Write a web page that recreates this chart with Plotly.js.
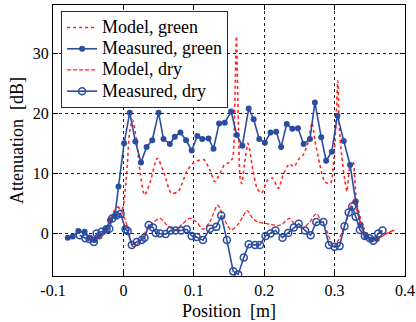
<!DOCTYPE html>
<html>
<head>
<meta charset="utf-8">
<script src="https://cdn.plot.ly/plotly-3.0.1.min.js"></script>
<style>html,body{margin:0;padding:0;background:#fff;}#chart{width:416px;height:322px;}</style>
</head>
<body>
<div id="chart"></div>
<script>
// ---- data ----
var modelGreenX = [-0.050, -0.042, -0.034, -0.024, -0.015, -0.008, -0.002, 0.004, 0.009, 0.013, 0.018, 0.024, 0.030, 0.038, 0.048, 0.058, 0.068, 0.078, 0.090, 0.100, 0.114, 0.123, 0.130, 0.137, 0.144, 0.150, 0.155, 0.158, 0.1605, 0.163, 0.166, 0.168, 0.172, 0.177, 0.184, 0.190, 0.196, 0.205, 0.212, 0.220, 0.227, 0.236, 0.242, 0.250, 0.255, 0.262, 0.268, 0.272, 0.279, 0.286, 0.294, 0.299, 0.3025, 0.3045, 0.3065, 0.310, 0.3143, 0.3175, 0.3215, 0.326, 0.331, 0.3405, 0.350, 0.354, 0.364, 0.374, 0.385];
var modelGreenY = [-0.5, -1.0, -0.8, 0.6, 3.3, 4.4, 4.0, 9.0, 17.0, 18.9, 16.0, 10.0, 6.4, 8.5, 12.5, 10.0, 6.7, 7.0, 10.3, 11.8, 12.3, 10.5, 8.6, 10.0, 11.5, 11.8, 12.5, 20.0, 32.8, 20.0, 9.0, 8.3, 11.5, 15.0, 10.5, 7.5, 6.7, 8.9, 9.2, 7.5, 9.8, 11.6, 11.1, 12.5, 13.0, 15.0, 18.4, 15.5, 11.5, 8.6, 8.3, 12.5, 20.0, 25.4, 18.0, 13.0, 9.0, 7.0, 11.0, 12.0, 5.5, 1.1, -0.6, -1.1, -0.7, 0.0, 0.6];

var measGreenX = [-0.079, -0.072, -0.064, -0.055, -0.048, -0.041, -0.034, -0.025, -0.019, -0.012, -0.007, 0.001, 0.009, 0.017, 0.025, 0.033, 0.041, 0.050, 0.057, 0.066, 0.073, 0.081, 0.089, 0.097, 0.105, 0.112, 0.121, 0.128, 0.136, 0.144, 0.153, 0.161, 0.169, 0.178, 0.185, 0.193, 0.201, 0.209, 0.217, 0.224, 0.232, 0.240, 0.248, 0.256, 0.265, 0.272, 0.281, 0.288, 0.296, 0.304, 0.313, 0.322, 0.330, 0.337, 0.345, 0.352, 0.360];
var measGreenY = [-0.7, -0.5, 0.4, 0.3, -0.7, -1.1, -0.5, 0.7, 2.2, 2.9, 7.8, 15.0, 20.1, 15.3, 11.8, 14.4, 15.5, 20.1, 15.7, 14.9, 16.1, 16.8, 15.5, 13.8, 16.2, 15.7, 15.8, 14.1, 18.3, 18.4, 20.3, 16.4, 14.6, 20.8, 19.0, 15.7, 15.1, 16.8, 16.9, 14.4, 18.2, 17.4, 17.5, 14.9, 15.7, 21.8, 16.0, 12.1, 13.6, 19.6, 15.4, 11.4, 5.3, 1.4, -0.5, -1.0, -0.9];

var modelDryX = [-0.050, -0.042, -0.034, -0.024, -0.015, -0.008, 0.000, 0.007, 0.014, 0.023, 0.033, 0.042, 0.052, 0.062, 0.073, 0.083, 0.094, 0.104, 0.113, 0.123, 0.134, 0.144, 0.153, 0.164, 0.176, 0.183, 0.191, 0.200, 0.210, 0.220, 0.228, 0.236, 0.244, 0.254, 0.264, 0.274, 0.282, 0.290, 0.298, 0.306, 0.317, 0.327, 0.334, 0.342, 0.354, 0.364, 0.374, 0.385];
var modelDryY = [-0.5, -1.0, -0.8, 0.6, 3.3, 4.4, 3.0, 0.6, -2.2, -1.4, 0.6, 1.8, 2.5, 1.4, 0.6, 1.5, 2.5, 1.9, 0.7, 2.0, 4.7, 2.2, 0.6, 1.7, 3.8, 2.6, 1.9, 1.7, 1.5, 1.3, 1.8, 2.5, 1.4, 0.8, 1.8, 3.3, 1.8, 0.2, -2.2, -1.0, 2.2, 5.5, 2.8, 0.0, -1.1, -0.7, 0.0, 0.6];

var measDryX = [-0.062, -0.054, -0.048, -0.042, -0.038, -0.031, -0.024, -0.020, -0.016, -0.010, -0.004, 0.003, 0.006, 0.012, 0.019, 0.026, 0.030, 0.036, 0.042, 0.046, 0.052, 0.060, 0.067, 0.074, 0.082, 0.090, 0.097, 0.104, 0.113, 0.123, 0.132, 0.139, 0.147, 0.156, 0.163, 0.171, 0.178, 0.187, 0.194, 0.202, 0.209, 0.216, 0.226, 0.234, 0.242, 0.249, 0.258, 0.266, 0.274, 0.284, 0.292, 0.300, 0.307, 0.314, 0.320, 0.325, 0.330, 0.336, 0.343, 0.350, 0.355, 0.362, 0.368];
var measDryY = [-0.3, -0.8, -0.9, -1.4, 0.0, 0.3, 0.7, 0.8, 2.5, 3.0, 3.3, 0.7, 0.4, -1.9, -1.4, -1.1, -0.7, 1.4, 1.0, 0.1, 0.0, -0.1, 0.5, 0.5, 0.5, 0.7, -0.4, -0.6, -1.1, 0.8, 1.1, 3.0, -1.1, -6.3, -6.8, -4.0, -1.8, -1.9, -1.9, -0.4, 0.0, 0.5, -0.7, 0.1, 1.0, 1.6, 0.5, -0.3, 1.9, 1.9, -1.9, -2.2, -2.1, 1.2, 3.5, 4.5, 2.8, 0.6, -0.4, -0.8, -1.2, 0.0, 0.5];

var seriesNames = ["Model, green", "Measured, green", "Model, dry", "Measured, dry"];
var xTickVals = [-0.1, 0, 0.1, 0.2, 0.3, 0.4];
var xTickText = ["-0.1", "0", "0.1", "0.2", "0.3", "0.4"];
var yTickVals = [0, 10, 20, 30];
var yTickText = ["0", "10", "20", "30"];

// ---- styles ----
var RED = "rgb(255,35,35)";
var BLUE = "rgb(44,76,160)";
var FONT = "'Liberation Serif', 'Times New Roman', serif";
function legendLabel(s) { return '<span style="font-size:18px">' + s + '</span>'; }

var traces = [
  {x: modelGreenX, y: modelGreenY, name: legendLabel(seriesNames[0]), mode: "lines",
   line: {color: RED, dash: "dot", width: 1.6, shape: "spline", smoothing: 0.7}},
  {x: measGreenX, y: measGreenY, name: legendLabel(seriesNames[1]), mode: "lines+markers",
   line: {color: BLUE, width: 1.6}, marker: {color: BLUE, size: 6, symbol: "circle"}},
  {x: modelDryX, y: modelDryY, name: legendLabel(seriesNames[2]), mode: "lines",
   line: {color: RED, dash: "4px,2px", width: 1.3, shape: "spline", smoothing: 0.8}},
  {x: measDryX, y: measDryY, name: legendLabel(seriesNames[3]), mode: "lines+markers",
   line: {color: BLUE, width: 1.6}, marker: {color: BLUE, size: 7, symbol: "circle-open", line: {width: 1.5, color: BLUE}}}
];

var axisCommon = {
  showline: true, linecolor: "black", linewidth: 1, mirror: "ticks",
  ticks: "inside", ticklen: 5, tickcolor: "black", tickwidth: 1,
  showgrid: true, gridcolor: "rgb(30,30,30)", gridwidth: 1, griddash: "3px,3px",
  zeroline: false, tickfont: {family: FONT, size: 16, color: "black"}
};

var layout = {
  width: 416, height: 322,
  margin: {l: 53, r: 11, t: 5, b: 46},
  paper_bgcolor: "white", plot_bgcolor: "white",
  font: {family: FONT, color: "black"},
  showlegend: true,
  legend: {x: 0.023, y: 0.978, xanchor: "left", yanchor: "top",
           bgcolor: "white", bordercolor: "rgb(40,40,40)", borderwidth: 1,
           traceorder: "normal", tracegroupgap: 0,
           font: {family: FONT, size: 14, color: "black"}},
  xaxis: Object.assign({}, axisCommon, {
    range: [-0.1, 0.4], tickmode: "array", tickvals: xTickVals, ticktext: xTickText,
    title: {text: "Position \u00a0[m]", font: {family: FONT, size: 18, color: "black"}, standoff: 6}
  }),
  yaxis: Object.assign({}, axisCommon, {
    range: [-7.07, 38], tickmode: "array", tickvals: yTickVals, ticktext: yTickText,
    title: {text: "Attenuation \u00a0[dB]", font: {family: FONT, size: 18, color: "black"}, standoff: 4}
  })
};

Plotly.newPlot("chart", traces, layout, {displayModeBar: false, staticPlot: true});
</script>
</body>
</html>
